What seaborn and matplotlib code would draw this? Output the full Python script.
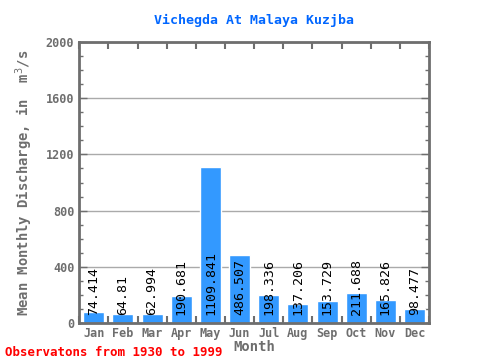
import numpy as np
import pandas as pd
import matplotlib
matplotlib.use('Agg')
import matplotlib.pyplot as plt
from matplotlib.ticker import MultipleLocator, FixedLocator
import seaborn as sns

months = ['Jan', 'Feb', 'Mar', 'Apr', 'May', 'Jun', 'Jul', 'Aug', 'Sep', 'Oct', 'Nov', 'Dec']
discharge = [74.414, 64.81, 62.994, 190.681, 1109.841, 486.507, 198.336, 137.206, 153.729, 211.688, 165.826, 98.477]
labels = ['74.414', '64.81', '62.994', '190.681', '1109.841', '486.507', '198.336', '137.206', '153.729', '211.688', '165.826', '98.477']

df = pd.DataFrame({'Month': months, 'Discharge': discharge})

sns.set_style('white')
plt.rcParams['font.family'] = ['DejaVu Sans Mono']
gray = '#6e6e6e'

fig = plt.figure(figsize=(4.8, 3.6), dpi=100)
ax = fig.add_axes([0.165, 0.103, 0.729, 0.78])

sns.barplot(data=df, x='Month', y='Discharge', color='#3399ff', saturation=1, width=0.72, ax=ax, zorder=2)

ax.set_ylim(0, 2000)
ax.set_xlim(-0.5, 11.5)
ax.yaxis.set_major_locator(MultipleLocator(400))
ax.yaxis.set_minor_locator(MultipleLocator(100))
ax.xaxis.set_minor_locator(FixedLocator(np.arange(-0.5, 12, 1)))
ax.grid(axis='y', which='major', color='#aaaaaa', linewidth=1, zorder=0)
ax.set_axisbelow(True)

for i, t in enumerate(labels):
    ax.text(i, 55, t, rotation=90, ha='center', va='bottom', fontsize=9.5, color='black', zorder=3)

ax.tick_params(axis='x', which='major', length=0, pad=3, labelsize=8.5, labelcolor=gray)
ax.tick_params(axis='x', which='minor', direction='in', length=5, width=1.5, color=gray, top=True, bottom=True)
ax.tick_params(axis='y', which='major', direction='in', length=6, width=1, color=gray, labelsize=8.5, labelcolor=gray, right=True, left=True)
ax.tick_params(axis='y', which='minor', direction='in', length=3, width=1, color=gray, right=True, left=True)
for lab in ax.get_xticklabels() + ax.get_yticklabels():
    lab.set_fontweight('bold')

for s in ax.spines.values():
    s.set_color(gray)
    s.set_linewidth(2)

ax.set_xlabel('Month', fontsize=10, color=gray, fontweight='bold', labelpad=0)
ax.set_ylabel('Mean Monthly Discharge, in  m$^{3}$/s', fontsize=10, color=gray, fontweight='bold', labelpad=8)
ax.set_title('Vichegda At Malaya Kuzjba', fontsize=9.5, color='#0066ff', fontweight='bold', pad=13)

fig.text(0.01, 0.012, 'Observatons from 1930 to 1999', color='red', fontsize=9, fontweight='bold')

fig.savefig('out.png', dpi=100)
